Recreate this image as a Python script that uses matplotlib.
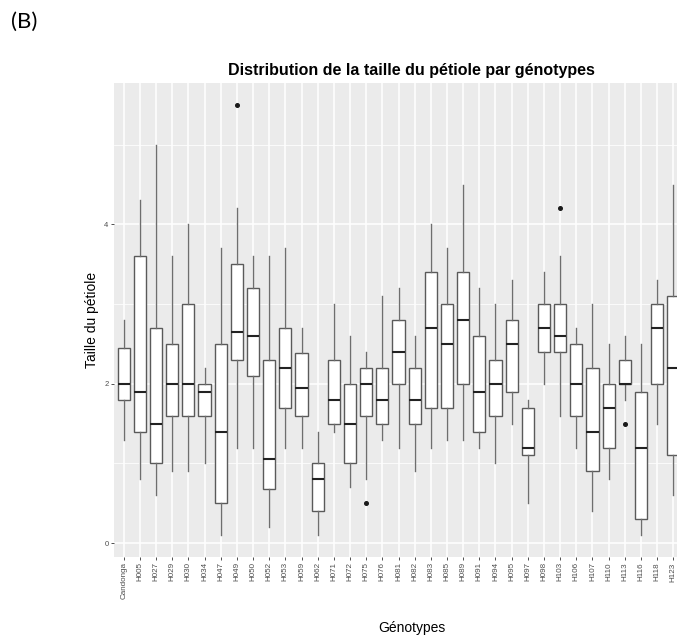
import matplotlib
matplotlib.use("Agg")
import matplotlib.pyplot as plt
from matplotlib.ticker import MultipleLocator

# Per-genotype box statistics for petiole size
genotypes = ["Candonga", "H005", "H027", "H029", "H030", "H034", "H047", "H049",
             "H050", "H052", "H053", "H059", "H062", "H071", "H072", "H075",
             "H076", "H081", "H082", "H083", "H085", "H089", "H091", "H094",
             "H095", "H097", "H098", "H103", "H106", "H107", "H110", "H113",
             "H116", "H118", "H123"]
whis_low = [1.3, 0.8, 0.6, 0.9, 0.9, 1.0, 0.1, 1.2, 1.2, 0.2, 1.2, 1.2, 0.1, 1.4,
            0.7, 0.8, 1.3, 1.2, 0.9, 1.2, 1.3, 1.3, 1.2, 1.0, 1.5, 0.5, 2.0, 1.6,
            1.2, 0.4, 0.8, 1.8, 0.1, 1.5, 0.6]
q1 = [1.8, 1.4, 1.0, 1.6, 1.6, 1.6, 0.5, 2.3, 2.1, 0.68, 1.7, 1.6, 0.4, 1.5,
      1.0, 1.6, 1.5, 2.0, 1.5, 1.7, 1.7, 2.0, 1.4, 1.6, 1.9, 1.1, 2.4, 2.4,
      1.6, 0.9, 1.2, 2.0, 0.3, 2.0, 1.1]
median = [2.0, 1.9, 1.5, 2.0, 2.0, 1.9, 1.4, 2.65, 2.6, 1.05, 2.2, 1.95, 0.8, 1.8,
          1.5, 2.0, 1.8, 2.4, 1.8, 2.7, 2.5, 2.8, 1.9, 2.0, 2.5, 1.2, 2.7, 2.6,
          2.0, 1.4, 1.7, 2.0, 1.2, 2.7, 2.2]
q3 = [2.45, 3.6, 2.7, 2.5, 3.0, 2.0, 2.5, 3.5, 3.2, 2.3, 2.7, 2.38, 1.0, 2.3,
      2.0, 2.2, 2.2, 2.8, 2.2, 3.4, 3.0, 3.4, 2.6, 2.3, 2.8, 1.7, 3.0, 3.0,
      2.5, 2.2, 2.0, 2.3, 1.9, 3.0, 3.1]
whis_high = [2.8, 4.3, 5.0, 3.6, 4.0, 2.2, 3.7, 4.2, 3.6, 3.6, 3.7, 2.7, 1.4, 3.0,
             2.6, 2.4, 3.1, 3.2, 2.6, 4.0, 3.7, 4.5, 3.2, 3.0, 3.3, 1.8, 3.4, 3.6,
             2.7, 3.0, 2.5, 2.6, 2.5, 3.3, 4.5]
outliers = {"H049": [5.5], "H075": [0.5], "H103": [4.2], "H113": [1.5]}

stats = []
for i, g in enumerate(genotypes):
    stats.append(dict(label=g, whislo=whis_low[i], q1=q1[i], med=median[i],
                      q3=q3[i], whishi=whis_high[i], fliers=outliers.get(g, [])))

W, H = 677, 641
fig = plt.figure(figsize=(W / 100, H / 100), dpi=100)
plt.rcParams["font.family"] = ["Liberation Sans", "DejaVu Sans"]

left, right, top, bottom = 114, 683, 83.3, 556.7
ax = fig.add_axes([left / W, 1 - bottom / H, (right - left) / W, (bottom - top) / H])
ax.set_facecolor("#EBEBEB")

positions = list(range(1, len(genotypes) + 1))
ax.bxp(stats, positions=positions, widths=0.75, patch_artist=True,
       showcaps=False,
       boxprops=dict(facecolor="white", edgecolor="#5a5a5a", linewidth=1.0),
       whiskerprops=dict(color="#6e6e6e", linewidth=1.0),
       medianprops=dict(color="#222222", linewidth=1.5),
       flierprops=dict(marker="o", markersize=2.6, markerfacecolor="#1a1a1a",
                       markeredgecolor="#1a1a1a"),
       zorder=3)

ax.set_xlim(0.4, len(genotypes) + 0.6)
ax.set_ylim(-0.17, 5.77)
ax.yaxis.set_major_locator(MultipleLocator(2))
ax.yaxis.set_minor_locator(MultipleLocator(1))
ax.set_xticks(positions)
ax.set_xticklabels(genotypes, rotation=90, fontsize=5.8, color="#4D4D4D")
ax.tick_params(axis="y", which="major", labelsize=5.5, labelcolor="#4D4D4D",
               length=2.5, width=0.6, color="#333333", pad=1.5)
ax.tick_params(axis="y", which="minor", length=0)
ax.tick_params(axis="x", length=2.5, width=0.6, color="#333333", pad=1.5)

ax.grid(True, which="major", color="white", linewidth=1.1, zorder=0)
ax.grid(True, which="minor", axis="y", color="white", linewidth=0.55, zorder=0)
ax.set_axisbelow(True)
for s in ax.spines.values():
    s.set_visible(False)

ax.set_ylabel("Taille du pétiole", fontsize=10, color="black", labelpad=4)
fig.text(411.5 / W, 1 - 628 / H, "Génotypes", ha="center", va="center",
         fontsize=10, color="black")
fig.text(411.5 / W, 1 - 70 / H, "Distribution de la taille du pétiole par génotypes",
         ha="center", va="center", fontsize=11.5, fontweight="bold", color="black")
fig.text(11 / W, 1 - 22 / H, "(B)", ha="left", va="center", fontsize=16,
         family=["Lato", "DejaVu Sans"], color="black")

fig.savefig("out.png", dpi=100, facecolor="white")
